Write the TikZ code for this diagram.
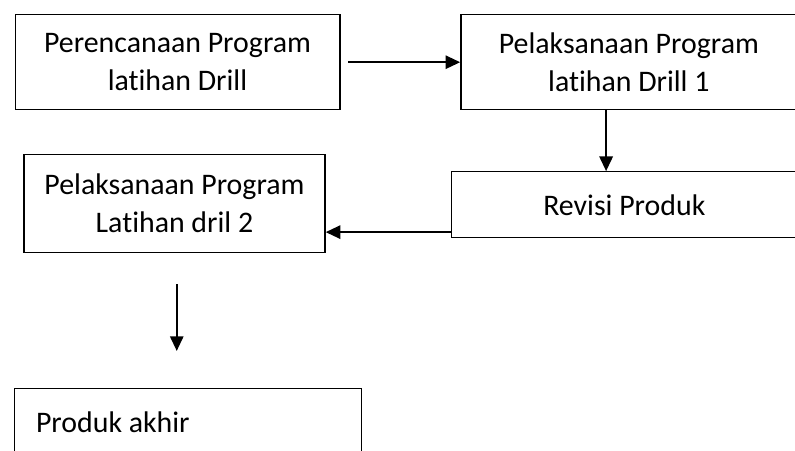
\documentclass[tikz,border=0pt]{standalone}
\usepackage{fontspec}
\setmainfont{Carlito}[RawFeature={-liga;-clig;-calt;-dlig}]
\usepackage{tikz}
\usetikzlibrary{arrows.meta,positioning}

\begin{document}
\begin{tikzpicture}[>={Triangle[length=5.5pt,width=5pt]},
    box/.style={rectangle, draw, line width=0.5pt, align=center, inner sep=0pt,
        font=\fontsize{11.2}{14.3}\selectfont},
    arr/.style={->, line width=0.75pt}]

    \useasboundingbox (0,0) rectangle (10.48,-5.945);
    \clip (0,0) rectangle (10.48,-5.945);

    % Boxes
    \node[box, minimum width=4.28cm, minimum height=1.25cm] (plan) at (2.34,-0.82) {Perencanaan Program\\latihan Drill};
    \node[box, minimum width=4.43cm, minimum height=1.25cm] (run1) at (8.29,-0.82) {Pelaksanaan Program\\latihan Drill 1};
    \node[box, minimum width=4.56cm, minimum height=0.87cm] (rev) at (8.23,-2.70) {Revisi Produk};
    \node[box, minimum width=3.97cm, minimum height=1.29cm] (run2) at (2.30,-2.68) {Pelaksanaan Program\\Latihan dril 2};
    \node[box, minimum height=0.87cm, inner xsep=0.28cm, text width=4.01cm, align=flush left] (final) at (2.48,-5.56) {Produk akhir};

    % Helper coordinates
    \coordinate (bc) at (7.99,0);
    \coordinate (cd) at (0,-3.06);
    \coordinate (df) at (2.33,0);

    % Draw connections
    \draw[arr, shorten <=0.105cm] (plan) -- (run1);
    \draw[arr] (run1.south -| bc) -- (rev.north -| bc);
    \draw[arr] (rev.west |- cd) -- (run2.east |- cd);
    \draw[arr, shorten <=0.41cm, shorten >=0.49cm] (run2.south -| df) -- (final.north -| df);

\end{tikzpicture}
\end{document}
